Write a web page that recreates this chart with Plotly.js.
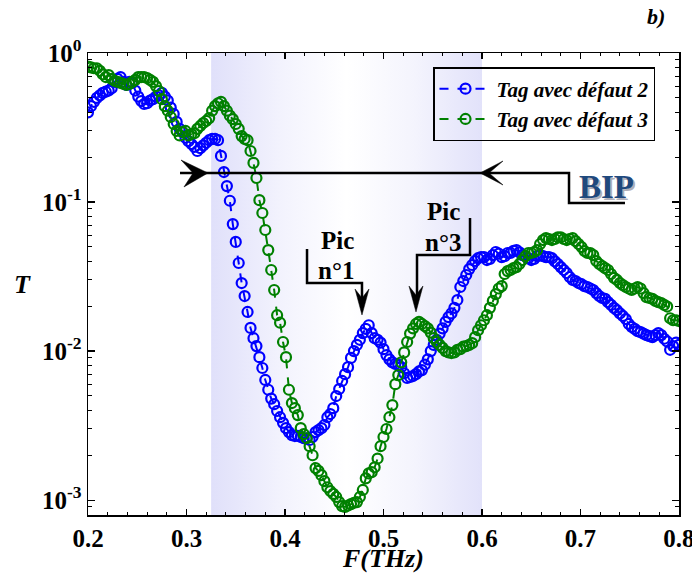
<!DOCTYPE html>
<html>
<head>
<meta charset="utf-8">
<script src="https://cdn.plot.ly/plotly-3.0.1.min.js"></script>
<style>html,body{margin:0;padding:0;background:#fff;}#chart{width:692px;height:573px;}</style>
</head>
<body>
<div id="chart"></div>
<script>
// Frequency grid (THz)
const FREQ_START = 0.2;
const FREQ_STEP = 0.003;

// Transmission, "Tag avec défaut 2"
const tag2 = [
  0.40, 0.44, 0.47, 0.50, 0.52, 0.54, 0.55, 0.56, 0.58, 0.64,
  0.67, 0.69, 0.64, 0.61, 0.64, 0.63, 0.56, 0.51, 0.476, 0.455,
  0.46, 0.48, 0.49, 0.51, 0.52, 0.54, 0.51, 0.48, 0.43, 0.39,
  0.345, 0.31, 0.295, 0.27, 0.256, 0.245, 0.234, 0.22, 0.23, 0.24,
  0.25, 0.26, 0.265, 0.265, 0.26, 0.204, 0.159, 0.128, 0.102, 0.0711,
  0.054, 0.039, 0.0286, 0.0234, 0.0183, 0.0143, 0.0122, 0.0108, 0.0091, 0.0077,
  0.0064, 0.0055, 0.0048, 0.0044, 0.00396, 0.0036, 0.0033, 0.00304, 0.00286, 0.00273,
  0.00269, 0.0027, 0.00265, 0.0026, 0.0026, 0.00253, 0.00265, 0.00286, 0.00295, 0.00304,
  0.00319, 0.0036, 0.00378, 0.00414, 0.00499, 0.00556, 0.0063, 0.0070, 0.0078, 0.0090,
  0.0100, 0.0110, 0.0119, 0.0132, 0.0141, 0.0149, 0.0132, 0.0122, 0.0119, 0.0114,
  0.0103, 0.0094, 0.0088, 0.0084, 0.0082, 0.0081, 0.0078, 0.0071, 0.0066, 0.0067,
  0.0068, 0.0070, 0.0073, 0.00745, 0.0081, 0.0088, 0.0100, 0.0110, 0.0119, 0.0131,
  0.0142, 0.0157, 0.0169, 0.0179, 0.0195, 0.0220, 0.0269, 0.0295, 0.0324, 0.0355,
  0.0378, 0.0402, 0.042, 0.0427, 0.0427, 0.0408, 0.0415, 0.044, 0.0462, 0.045,
  0.0427, 0.0433, 0.0455, 0.0455, 0.047, 0.0476, 0.046, 0.044, 0.0433, 0.042,
  0.0408, 0.0415, 0.0433, 0.044, 0.0433, 0.0427, 0.0427, 0.042, 0.040, 0.0384,
  0.0366, 0.035, 0.0334, 0.0314, 0.030, 0.0295, 0.0286, 0.0281, 0.0273, 0.0269,
  0.0263, 0.0257, 0.0245, 0.0234, 0.0227, 0.0224, 0.0213, 0.0204, 0.0195, 0.0188,
  0.0179, 0.0172, 0.0164, 0.0152, 0.0145, 0.0141, 0.0136, 0.0134, 0.0131, 0.0128,
  0.0126, 0.0124, 0.0128, 0.0132, 0.0128, 0.0121, 0.0116, 0.0102, 0.0108, 0.0114,
  0.0110
];

// Transmission, "Tag avec défaut 3"
const tag3 = [
  0.81, 0.80, 0.79, 0.79, 0.76, 0.72, 0.69, 0.71, 0.67, 0.65,
  0.64, 0.63, 0.62, 0.61, 0.62, 0.64, 0.66, 0.69, 0.69, 0.69,
  0.68, 0.66, 0.64, 0.60, 0.556, 0.49, 0.44, 0.41, 0.372, 0.334,
  0.30, 0.28, 0.295, 0.30, 0.28, 0.286, 0.29, 0.31, 0.324, 0.339,
  0.35, 0.366, 0.41, 0.44, 0.46, 0.47, 0.44, 0.41, 0.38, 0.36,
  0.334, 0.31, 0.277, 0.265, 0.26, 0.22, 0.183, 0.145, 0.103, 0.0844,
  0.0649, 0.0476, 0.035, 0.0257, 0.0174, 0.0155, 0.0115, 0.0091, 0.0055, 0.00448,
  0.00414, 0.00372, 0.00304, 0.00277, 0.0026, 0.0023, 0.0020, 0.00164, 0.00157, 0.00147,
  0.00134, 0.00122, 0.00115, 0.0011, 0.00105, 0.00097, 0.00091, 0.0009, 0.00092, 0.00094,
  0.00096, 0.00097, 0.00105, 0.00117, 0.0014, 0.00151, 0.00154, 0.00166, 0.0019, 0.0023,
  0.00265, 0.0030, 0.0036, 0.00434, 0.006, 0.0069, 0.0084, 0.0098, 0.0115, 0.0131,
  0.0142, 0.0152, 0.0157, 0.0152, 0.0147, 0.0142, 0.0133, 0.0122, 0.0115, 0.011,
  0.0105, 0.0100, 0.0098, 0.0097, 0.0098, 0.0102, 0.0103, 0.0107, 0.0108, 0.011,
  0.0113, 0.0124, 0.0138, 0.0149, 0.0161, 0.0174, 0.0195, 0.0217, 0.0241, 0.0263,
  0.0273, 0.0329, 0.0344, 0.035, 0.036, 0.0366, 0.0384, 0.0408, 0.0433, 0.0455,
  0.0455, 0.0462, 0.0476, 0.0523, 0.0556, 0.0573, 0.0565, 0.0556, 0.0565, 0.058,
  0.058, 0.0565, 0.0556, 0.0565, 0.0573, 0.0547, 0.0523, 0.0499, 0.0469, 0.0455,
  0.0455, 0.044, 0.0402, 0.0384, 0.0372, 0.036, 0.035, 0.0329, 0.031, 0.030,
  0.0286, 0.0277, 0.0269, 0.0263, 0.0257, 0.0263, 0.0269, 0.0263, 0.0245, 0.023,
  0.0227, 0.0224, 0.0217, 0.0213, 0.021, 0.0204, 0.0199, 0.0166, 0.0161, 0.0161,
  0.0159
];

const seriesNames = ['Tag avec défaut 2', 'Tag avec défaut 3'];
const bipBand = [0.325, 0.6];
const xTickVals = [0.2, 0.3, 0.4, 0.5, 0.6, 0.7, 0.8];
const xTickText = ['0.2', '0.3', '0.4', '0.5', '0.6', '0.7', '0.8'];
const yTickVals = [0.001, 0.01, 0.1, 1];
const yTickText = ['10<sup>-3</sup>', '10<sup>-2</sup>', '10<sup>-1</sup>', '10<sup>0</sup>'];

// Plot area in pixels (for decorative annotation placement)
const PL = 88, PR = 679, PT = 53, PB = 515;
const px = v => (v - PL) / (PR - PL);
const py = v => (PB - v) / (PB - PT);
const P = (x, y) => px(x).toFixed(4) + ',' + py(y).toFixed(4);

const SERIF = 'Liberation Serif, Times New Roman, serif';

const band = {
  x: [bipBand[0], bipBand[1], bipBand[1], bipBand[0], bipBand[0]],
  y: [1e-5, 1e-5, 10, 10, 1e-5],
  mode: 'none', fill: 'toself', showlegend: false, hoverinfo: 'skip',
  fillgradient: {type: 'horizontal',
    colorscale: [[0, 'rgb(224,224,250)'], [0.25, 'rgb(242,242,253)'], [0.5, 'rgb(255,255,255)'], [0.75, 'rgb(244,244,253)'], [1, 'rgb(226,226,250)']]}
};

function series(y, name, color) {
  return {
    x0: FREQ_START, dx: FREQ_STEP, y: y, name: name,
    mode: 'lines+markers', type: 'scatter',
    line: {color: color, width: 2, dash: 'dash'},
    marker: {symbol: 'circle-open', size: 10, color: color, line: {width: 2.2, color: color}}
  };
}

const traces = [band, series(tag2, seriesNames[0], 'rgb(0,0,255)'), series(tag3, seriesNames[1], 'rgb(0,128,0)')];

const line = (path, w) => ({type: 'path', xref: 'paper', yref: 'paper', path: path, line: {color: 'black', width: w}, layer: 'above'});
const fillPath = (path) => ({type: 'path', xref: 'paper', yref: 'paper', path: path, line: {color: 'black', width: 0.5}, fillcolor: 'black', layer: 'above'});

const shapes = [
  line('M' + P(180,173) + 'L' + P(569,173) + 'L' + P(569,203) + 'L' + P(625,203), 2.5),
  fillPath('M' + P(208,173) + 'L' + P(181,160) + 'L' + P(193,173) + 'L' + P(184,187) + 'Z'),
  fillPath('M' + P(480,173) + 'L' + P(503,161) + 'L' + P(489,173) + 'L' + P(503,185) + 'Z'),
  line('M' + P(307,249) + 'L' + P(307,283) + 'L' + P(362,283) + 'L' + P(362,300), 2.5),
  fillPath('M' + P(362,315) + 'L' + P(355,289) + 'L' + P(362,298) + 'L' + P(369,289) + 'Z'),
  line('M' + P(470,218) + 'L' + P(470,255) + 'L' + P(417,255) + 'L' + P(417,298), 2.5),
  fillPath('M' + P(416,312) + 'L' + P(409,286) + 'L' + P(416,295) + 'L' + P(423,286) + 'Z')
];

const txt = (text, x, y, size, extra) => Object.assign({
  text: text, xref: 'paper', yref: 'paper', x: px(x), y: py(y),
  xanchor: 'center', yanchor: 'middle', showarrow: false,
  font: {family: SERIF, size: size, color: 'black', weight: 'bold'}
}, extra || {});

const annotations = [
  txt('Pic', 337, 240, 25),
  txt('n°1', 336, 270, 25),
  txt('Pic', 443, 212, 25),
  txt('n°3', 443, 243, 25),
  txt('BIP', 608, 189, 33, {font: {family: SERIF, size: 33, color: 'rgb(175,175,185)', weight: 'bold'}}),
  txt('BIP', 606, 187, 33, {font: {family: SERIF, size: 33, color: 'rgb(31,73,125)', weight: 'bold'}}),
  txt('b)', 656, 16, 22, {font: {family: SERIF, size: 22, color: 'black', weight: 'bold', style: 'italic'}}),
  txt('T', 22, 284, 26, {font: {family: SERIF, size: 26, color: 'black', weight: 'bold', style: 'italic'}}),
  txt('F(THz)', 383, 558, 26, {font: {family: SERIF, size: 26, color: 'black', weight: 'bold', style: 'italic'}})
];

const axisCommon = {
  showline: true, linecolor: 'black', linewidth: 1.5, mirror: 'allticks',
  ticks: 'inside', tickcolor: 'black', tickwidth: 1.2, showgrid: false, zeroline: false,
  ticklabeloverflow: 'allow',
  tickfont: {family: SERIF, size: 25, color: 'black', weight: 'bold'}
};

const layout = {
  width: 692, height: 573,
  margin: {l: PL, r: 692 - PR, t: PT, b: 573 - PB},
  paper_bgcolor: 'white', plot_bgcolor: 'white',
  showlegend: true,
  legend: {x: px(433), y: py(67), xanchor: 'left', yanchor: 'top', itemwidth: 52,
    bgcolor: 'rgba(255,255,255,0)', bordercolor: 'black', borderwidth: 1.5,
    font: {family: SERIF, size: 21, color: 'black', weight: 'bold', style: 'italic'}},
  xaxis: Object.assign({}, axisCommon, {
    range: [0.19999, 0.80001], tickmode: 'array', tickvals: xTickVals, ticktext: xTickText, ticklen: 6,
    minor: {dtick: 0.02, tick0: 0.2, ticks: 'inside', ticklen: 3, tickcolor: 'black', tickwidth: 1}
  }),
  yaxis: Object.assign({}, axisCommon, {
    type: 'log', range: [-3.1, 0.0001], tickmode: 'array', tickvals: yTickVals, ticktext: yTickText, ticklen: 7,
    minor: {ticks: 'inside', ticklen: 4, tickcolor: 'black', tickwidth: 1, dtick: 'D1'}
  }),
  shapes: shapes,
  annotations: annotations
};

Plotly.newPlot('chart', traces, layout, {displayModeBar: false, staticPlot: true});
</script>
</body>
</html>
